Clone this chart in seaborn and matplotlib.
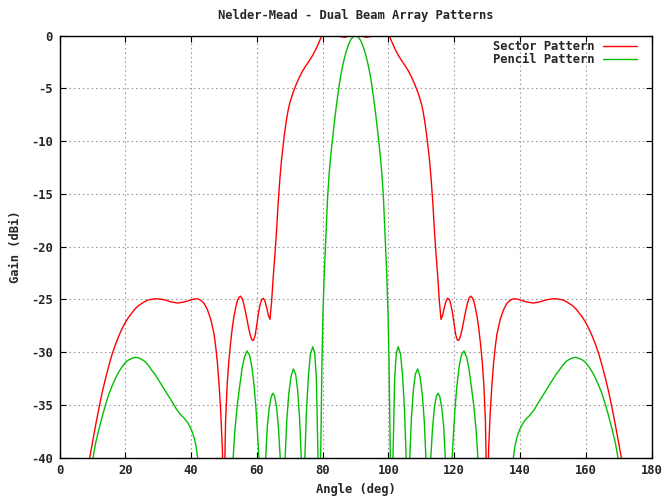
import matplotlib
matplotlib.use("Agg")
import matplotlib.pyplot as plt
import seaborn as sns
import pandas as pd

# ---------------- data ----------------
sector_angle = [
    0, 3, 6, 8, 9.2, 10, 11, 12, 13, 14, 15, 16, 17, 18, 19, 20, 21, 22, 23, 24, 25,
    26, 27, 28, 29, 30, 31, 32, 33, 34, 35, 36, 37, 38, 39, 40, 41, 42, 43, 44, 45,
    46, 47, 47.5, 48, 48.5, 49, 49.5, 50, 50.5, 51, 51.5, 52, 52.5, 53, 53.5, 54,
    54.5, 55, 55.5, 56, 56.5, 57, 57.5, 58, 58.5, 59, 59.5, 60, 60.5, 61, 61.5, 62,
    62.5, 63, 63.5, 64, 64.5, 65, 65.5, 66, 66.5, 67, 67.5, 68, 68.5, 69, 69.5, 70,
    71, 72, 73, 74, 75, 76, 77, 78, 79, 80, 81, 82, 83, 84, 85, 86, 87, 88, 89, 90,
    91, 92, 93, 94, 95, 96, 97, 98, 99, 100, 101, 102, 103, 104, 105, 106, 107, 108,
    109, 110, 110.5, 111, 111.5, 112, 112.5, 113, 113.5, 114, 114.5, 115, 115.5, 116,
    116.5, 117, 117.5, 118, 118.5, 119, 119.5, 120, 120.5, 121, 121.5, 122, 122.5,
    123, 123.5, 124, 124.5, 125, 125.5, 126, 126.5, 127, 127.5, 128, 128.5, 129,
    129.5, 130, 130.5, 131, 131.5, 132, 132.5, 133, 134, 135, 136, 137, 138, 139,
    140, 141, 142, 143, 144, 145, 146, 147, 148, 149, 150, 151, 152, 153, 154, 155,
    156, 157, 158, 159, 160, 161, 162, 163, 164, 165, 166, 167, 168, 169, 170, 170.8,
    172, 174, 177, 180]
sector_gain = [
    -62, -53, -45.5, -42, -40, -38.6, -36.9, -35.3, -33.8, -32.5, -31.3, -30.2, -29.3,
    -28.5, -27.8, -27.2, -26.7, -26.3, -25.9, -25.6, -25.4, -25.2, -25.05, -25.0,
    -24.95, -24.95, -25.0, -25.05, -25.15, -25.25, -25.3, -25.35, -25.3, -25.25,
    -25.15, -25.05, -24.97, -24.95, -25.1, -25.4, -26.0, -26.9, -28.3, -29.5, -31.0,
    -33.0, -35.5, -39.0, -45.0, -36.5, -33.0, -30.8, -29.2, -27.8, -26.7, -25.9,
    -25.2, -24.85, -24.7, -24.9, -25.4, -26.1, -26.9, -27.7, -28.4, -28.85, -28.9,
    -28.4, -27.4, -26.3, -25.5, -25.0, -24.9, -25.2, -25.8, -26.5, -26.9, -25.2,
    -22.8, -20.8, -18.5, -15.8, -13.6, -11.8, -10.4, -9.1, -8.0, -7.1, -6.4, -5.4,
    -4.6, -3.9, -3.3, -2.8, -2.35, -1.85, -1.25, -0.55, 0.2, 0.4, 0.4, 0.3, 0.1, -0.05,
    -0.12, -0.15, 0.05, 0.3, 0.35, 0.3, 0.05, -0.15, -0.12, -0.05, 0.1, 0.3, 0.4, 0.4,
    0.2, -0.55, -1.25, -1.85, -2.35, -2.8, -3.3, -3.9, -4.6, -5.4, -6.4, -7.1, -8.0,
    -9.1, -10.4, -11.8, -13.6, -15.8, -18.5, -20.8, -22.8, -25.2, -26.9, -26.5,
    -25.8, -25.2, -24.9, -25.0, -25.5, -26.3, -27.4, -28.4, -28.9, -28.85, -28.4,
    -27.7, -26.9, -26.1, -25.4, -24.9, -24.7, -24.85, -25.2, -25.9, -26.7, -27.8,
    -29.2, -30.8, -33.0, -36.5, -45.0, -39.0, -35.5, -33.0, -31.0, -29.5, -28.3,
    -26.9, -26.0, -25.4, -25.1, -24.95, -24.97, -25.05, -25.15, -25.25, -25.3,
    -25.35, -25.3, -25.25, -25.15, -25.05, -25.0, -24.95, -24.95, -25.0, -25.05,
    -25.2, -25.4, -25.6, -25.9, -26.3, -26.7, -27.2, -27.8, -28.5, -29.3, -30.2,
    -31.3, -32.5, -33.8, -35.3, -36.9, -38.6, -40.0, -42, -45.5, -53, -62]

pencil_angle = [
    0, 4, 8, 10.2, 11, 12, 13, 14, 15, 16, 17, 18, 19, 20, 21, 22, 23, 24, 25, 26,
    27, 28, 29, 30, 31, 32, 33, 34, 35, 35.5, 36, 37, 38, 38.5, 39, 39.5, 40, 40.5,
    41, 41.5, 42, 43, 45, 48, 51, 52.8, 53.3, 54, 54.8, 55.5, 56.2, 57, 57.8, 58.5,
    59.2, 59.8, 60.3, 60.8, 61.5, 62.2, 62.7, 63.2, 63.8, 64.4, 64.9, 65.4, 66.0,
    66.6, 67.1, 67.8, 68.6, 69.1, 69.7, 70.4, 71.1, 71.8, 72.4, 73.0, 73.5, 74.0,
    74.6, 75.1, 75.7, 76.3, 77.0, 77.6, 78.1, 78.6, 78.9, 79.2, 79.5, 79.8, 80.1,
    80.5, 81, 81.5, 82, 82.5, 83, 83.5, 84, 84.5, 85, 85.5, 86, 86.5, 87, 87.5, 88,
    88.5, 89, 89.5, 90, 90.5, 91, 91.5, 92, 92.5, 93, 93.5, 94, 94.5, 95, 95.5, 96,
    96.5, 97, 97.5, 98, 98.5, 99, 99.5, 99.9, 100.2, 100.5, 100.8, 101.1, 101.4,
    101.9, 102.4, 103.0, 103.7, 104.3, 104.9, 105.4, 106.0, 106.5, 107.0, 107.6,
    108.2, 108.9, 109.6, 110.3, 110.9, 111.4, 112.2, 112.9, 113.4, 114.0, 114.6,
    115.1, 115.6, 116.2, 116.8, 117.3, 117.8, 118.5, 119.2, 119.7, 120.2, 120.8,
    121.5, 122.2, 123.0, 123.8, 124.5, 125.2, 126.0, 126.7, 127.2, 129, 132, 135,
    137, 138, 138.5, 139, 139.5, 140, 140.5, 141, 141.5, 142, 143, 144, 144.5, 145,
    146, 147, 148, 149, 150, 151, 152, 153, 154, 155, 156, 157, 158, 159, 160, 161,
    162, 163, 164, 165, 166, 167, 168, 169, 169.8, 172, 176, 180]
pencil_gain = [
    -70, -58, -46, -40.0, -38.6, -37.3, -36.1, -35.0, -34.0, -33.2, -32.5, -31.9,
    -31.4, -31.0, -30.75, -30.6, -30.5, -30.55, -30.7, -30.9, -31.25, -31.7, -32.1,
    -32.6, -33.1, -33.6, -34.1, -34.6, -35.1, -35.4, -35.6, -36.0, -36.3, -36.5,
    -36.7, -37.0, -37.3, -37.7, -38.2, -38.9, -40.0, -44, -52, -56, -50, -40.0,
    -37.5, -35.2, -33.2, -31.6, -30.5, -29.9, -30.3, -31.4, -33.3, -35.6, -38.2,
    -41.0, -52, -48, -40.0, -37.0, -35.2, -34.2, -33.9, -34.2, -35.2, -37.3, -40.0,
    -50, -40.0, -36.5, -34.0, -32.3, -31.6, -32.1, -33.6, -36.3, -40.0, -50, -40.0,
    -35.5, -32.2, -30.2, -29.5, -30.1, -32.5, -40.0, -50, -44, -38, -31, -26.5,
    -22.6, -19.0, -15.4, -13.0, -11.3, -9.8, -8.4, -7.1, -5.9, -4.8, -3.8, -3.0,
    -2.3, -1.7, -1.2, -0.75, -0.42, -0.2, -0.05, 0.0, -0.05, -0.2, -0.42, -0.75,
    -1.2, -1.7, -2.3, -3.0, -3.8, -4.8, -5.9, -7.1, -8.4, -9.8, -11.3, -13.0,
    -15.4, -19.0, -22.6, -26.5, -31, -38, -44, -50, -40.0, -32.5, -30.1, -29.5,
    -30.2, -32.2, -35.5, -40.0, -50, -40.0, -36.3, -33.6, -32.1, -31.6, -32.3,
    -34.0, -36.5, -40.0, -50, -40.0, -37.3, -35.2, -34.2, -33.9, -34.2, -35.2,
    -37.0, -40.0, -48, -52, -41.0, -38.2, -35.6, -33.3, -31.4, -30.3, -29.9, -30.5,
    -31.6, -33.2, -35.2, -37.5, -40.0, -50, -56, -52, -44, -40.0, -38.9, -38.2,
    -37.7, -37.3, -37.0, -36.7, -36.5, -36.3, -36.0, -35.6, -35.4, -35.1, -34.6,
    -34.1, -33.6, -33.1, -32.6, -32.1, -31.7, -31.25, -30.9, -30.7, -30.55, -30.5,
    -30.6, -30.75, -31.0, -31.4, -31.9, -32.5, -33.2, -34.0, -35.0, -36.1, -37.3,
    -38.6, -40.0, -46, -58, -70]

series_names = ["Sector Pattern", "Pencil Pattern"]
x_ticks = [0, 20, 40, 60, 80, 100, 120, 140, 160, 180]
y_ticks = [0, -5, -10, -15, -20, -25, -30, -35, -40]

# ---------------- style ----------------
sns.set_theme(style="white")
plt.rcParams["font.family"] = ["DejaVu Sans Mono"]
plt.rcParams["font.weight"] = "bold"
FS = 8.7

fig = plt.figure(figsize=(6.66, 5.0), dpi=100)
ax = fig.add_axes([59.5 / 666, 42.5 / 500, 592 / 666, 421.8 / 500])

sector_df = pd.DataFrame({"angle": sector_angle, "gain": sector_gain})
pencil_df = pd.DataFrame({"angle": pencil_angle, "gain": pencil_gain})

sns.lineplot(data=sector_df, x="angle", y="gain", ax=ax, color="#ff0000",
             linewidth=1.0, estimator=None, sort=False, label=series_names[0])
sns.lineplot(data=pencil_df, x="angle", y="gain", ax=ax, color="#00c000",
             linewidth=1.0, estimator=None, sort=False, label=series_names[1])

ax.set_xlim(0, 180)
ax.set_ylim(-40, 0)
ax.set_xticks(x_ticks)
ax.set_yticks(y_ticks)
ax.set_xticklabels([str(t) for t in x_ticks], fontsize=FS, fontweight="bold")
ax.set_yticklabels([str(t) for t in y_ticks], fontsize=FS, fontweight="bold")
ax.tick_params(direction="in", length=4, width=0.8, color="black",
               top=True, right=True, bottom=True, left=True, pad=5)

ax.grid(True, color="#a0a0a0", linestyle=(0, (1.5, 2.5)), linewidth=0.8)
ax.set_axisbelow(True)
for s in ax.spines.values():
    s.set_color("black")
    s.set_linewidth(1.0)

ax.set_xlabel("Angle (deg)", fontsize=FS, fontweight="bold", labelpad=4)
ax.set_ylabel("Gain (dBi)", fontsize=FS, fontweight="bold", labelpad=6)
ax.set_title("Nelder-Mead - Dual Beam Array Patterns", fontsize=FS,
             fontweight="bold", pad=12)

leg = ax.legend(loc="upper right", bbox_to_anchor=(0.975, 0.989),
                frameon=False, markerfirst=False,
                fontsize=FS, handlelength=2.8, handletextpad=0.7,
                borderaxespad=0.0, labelspacing=0.0, borderpad=0.0)
for t in leg.get_texts():
    t.set_fontweight("bold")

fig.savefig("out.png", dpi=100)
